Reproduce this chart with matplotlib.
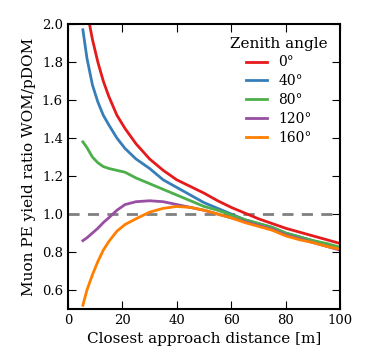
import matplotlib
matplotlib.use("Agg")
import matplotlib.pyplot as plt

plt.rcParams['font.family'] = 'DejaVu Serif'
plt.rcParams['mathtext.fontset'] = 'dejavuserif'

distance = [5.5, 7, 9, 11, 13, 15, 18, 21, 25, 30, 35, 40, 45, 50, 55, 60,
            65, 70, 75, 80, 85, 90, 95, 100]
ratio_0 = [2.2, 2.07, 1.92, 1.80, 1.70, 1.62, 1.52, 1.45, 1.37, 1.29, 1.23, 1.18,
           1.145, 1.11, 1.07, 1.035, 1.005, 0.975, 0.95, 0.925, 0.905, 0.885, 0.865, 0.845]
ratio_40 = [1.97, 1.82, 1.68, 1.59, 1.52, 1.47, 1.40, 1.345, 1.29, 1.24, 1.18, 1.14,
            1.10, 1.06, 1.03, 1.0, 0.97, 0.95, 0.93, 0.90, 0.88, 0.86, 0.84, 0.82]
ratio_80 = [1.38, 1.35, 1.30, 1.27, 1.25, 1.24, 1.23, 1.22, 1.19, 1.16, 1.13, 1.10,
            1.07, 1.04, 1.02, 0.995, 0.97, 0.95, 0.93, 0.90, 0.88, 0.86, 0.845, 0.825]
ratio_120 = [0.86, 0.875, 0.90, 0.925, 0.955, 0.98, 1.02, 1.05, 1.065, 1.07, 1.065, 1.05,
             1.035, 1.02, 1.0, 0.98, 0.96, 0.94, 0.92, 0.89, 0.87, 0.85, 0.83, 0.81]
ratio_160 = [0.52, 0.60, 0.68, 0.75, 0.81, 0.855, 0.91, 0.945, 0.975, 1.01, 1.03, 1.04,
             1.035, 1.02, 1.0, 0.98, 0.955, 0.935, 0.915, 0.885, 0.865, 0.85, 0.83, 0.815]

angles = ["0°", "40°", "80°", "120°", "160°"]
series = [ratio_0, ratio_40, ratio_80, ratio_120, ratio_160]
colors = ["#e41a1c", "#377eb8", "#4daf4a", "#984ea3", "#ff7f00"]

fig = plt.figure(figsize=(3.67, 3.54), dpi=100)
ax = fig.add_axes([0.185, 0.127, 0.742, 0.805])

ax.axhline(1.0, color="gray", ls="--", lw=2, dashes=(4, 3))
for label, vals, c in zip(angles, series, colors):
    ax.plot(distance, vals, color=c, lw=2, label=label)

ax.set_xlim(0, 100)
ax.set_ylim(0.5, 2.0)
ax.set_yticks([0.6, 0.8, 1.0, 1.2, 1.4, 1.6, 1.8, 2.0])
ax.set_xticks([0, 20, 40, 60, 80, 100])
ax.tick_params(direction="in", top=True, right=True, length=6, labelsize=9.5)
for s in ax.spines.values():
    s.set_linewidth(1.5)

ax.set_xlabel("Closest approach distance [m]", fontsize=11)
ax.set_ylabel("Muon PE yield ratio WOM/pDOM", fontsize=11)

leg = ax.legend(title="Zenith angle", frameon=False, loc="upper right",
                fontsize=10, title_fontsize=11, handlelength=1.5,
                labelspacing=0.35)

fig.savefig("out.png", dpi=100)
